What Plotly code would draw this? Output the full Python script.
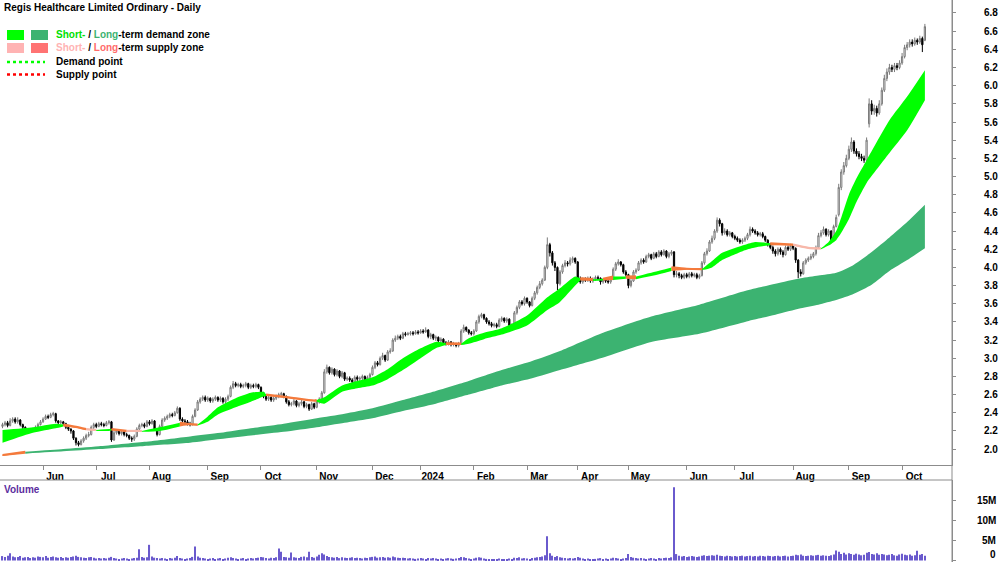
import pandas as pd
import plotly.graph_objects as go

W, H = 1000, 562


def px(x):
    return x / W


def py(y):
    return 1 - y / H


title = "Regis Healthcare Limited Ordinary - Daily"
holidays = ["2023-06-12", "2023-12-25", "2023-12-26", "2024-01-01", "2024-01-26",
            "2024-03-29", "2024-04-01", "2024-04-25", "2024-06-10"]
dates = pd.bdate_range("2023-05-10", "2024-10-14", freq="C", holidays=holidays)

opens = [
    2.25, 2.27, 2.29, 2.26, 2.31, 2.33, 2.30, 2.32, 2.27, 2.24,
    2.21, 2.21, 2.20, 2.22, 2.24, 2.27, 2.30, 2.33, 2.36, 2.35,
    2.38, 2.39, 2.31, 2.29, 2.30, 2.28, 2.24, 2.22, 2.20, 2.12,
    2.07, 2.05, 2.09, 2.12, 2.15, 2.16, 2.24, 2.27, 2.25, 2.28,
    2.27, 2.26, 2.29, 2.30, 2.10, 2.18, 2.20, 2.17, 2.19, 2.16,
    2.15, 2.12, 2.11, 2.14, 2.22, 2.26, 2.27, 2.25, 2.30, 2.28,
    2.31, 2.22, 2.16, 2.25, 2.32, 2.34, 2.36, 2.38, 2.37, 2.40,
    2.45, 2.33, 2.31, 2.30, 2.28, 2.27, 2.36, 2.43, 2.52, 2.55,
    2.57, 2.54, 2.56, 2.53, 2.55, 2.57, 2.54, 2.56, 2.52, 2.55,
    2.58, 2.68, 2.72, 2.70, 2.71, 2.69, 2.70, 2.72, 2.68, 2.70,
    2.69, 2.71, 2.68, 2.62, 2.58, 2.55, 2.57, 2.54, 2.56, 2.58,
    2.60, 2.61, 2.58, 2.52, 2.49, 2.50, 2.53, 2.48, 2.50, 2.52,
    2.47, 2.49, 2.44, 2.50, 2.46, 2.52, 2.55, 2.62, 2.85, 2.90,
    2.84, 2.88, 2.82, 2.86, 2.80, 2.84, 2.77, 2.78, 2.76, 2.74,
    2.79, 2.77, 2.78, 2.80, 2.75, 2.79, 2.82, 2.90, 2.95, 2.93,
    3.00, 3.03, 2.98, 3.07, 3.08, 3.20, 3.22, 3.24, 3.22, 3.27,
    3.26, 3.27, 3.28, 3.27, 3.29, 3.28, 3.30, 3.29, 3.31, 3.24,
    3.26, 3.22, 3.23, 3.19, 3.21, 3.17, 3.16, 3.18, 3.15, 3.16,
    3.14, 3.16, 3.30, 3.34, 3.31, 3.28, 3.27, 3.30, 3.40, 3.46,
    3.48, 3.44, 3.40, 3.38, 3.36, 3.37, 3.35, 3.42, 3.44, 3.41,
    3.43, 3.36, 3.34, 3.50, 3.56, 3.62, 3.60, 3.66, 3.62, 3.58,
    3.66, 3.72, 3.78, 3.82, 3.86, 4.00, 4.25, 4.16, 4.05, 4.00,
    3.82, 3.95, 4.02, 4.05, 4.04, 4.08, 4.10, 4.06, 3.88, 3.84,
    3.87, 3.86, 3.88, 3.85, 3.87, 3.89, 3.88, 3.84, 3.86, 3.85,
    3.84, 3.87, 3.98, 4.04, 4.06, 4.03, 3.95, 3.92, 3.80, 3.85,
    3.95, 3.97, 4.05, 4.08, 4.06, 4.12, 4.14, 4.10, 4.15, 4.12,
    4.17, 4.14, 4.18, 4.12, 4.15, 4.17, 3.92, 3.93, 3.91, 3.89,
    3.92, 3.90, 3.93, 3.91, 3.92, 3.89, 3.91, 4.05, 4.15, 4.18,
    4.28, 4.32, 4.40, 4.52, 4.48, 4.38, 4.40, 4.36, 4.38, 4.34,
    4.32, 4.30, 4.28, 4.30, 4.32, 4.36, 4.42, 4.40, 4.38, 4.36,
    4.37, 4.34, 4.30, 4.25, 4.22, 4.18, 4.15, 4.20, 4.17, 4.14,
    4.22, 4.20, 4.24, 4.21, 4.08, 3.95, 3.93, 4.05, 4.08, 4.10,
    4.12, 4.15, 4.22, 4.35, 4.38, 4.42, 4.36, 4.40, 4.30, 4.45,
    4.58, 4.88, 5.05, 5.12, 5.20, 5.30, 5.38, 5.28, 5.25, 5.22,
    5.20, 5.18, 5.58, 5.80, 5.72, 5.75, 5.70, 5.80, 5.95, 6.08,
    6.15, 6.20, 6.18, 6.22, 6.20, 6.25, 6.32, 6.42, 6.45, 6.48,
    6.46, 6.50, 6.48, 6.52, 6.50,
]
highs = [
    2.29, 2.31, 2.31, 2.34, 2.35, 2.35, 2.35, 2.33, 2.28, 2.25,
    2.23, 2.22, 2.23, 2.26, 2.29, 2.32, 2.35, 2.38, 2.38, 2.40,
    2.41, 2.40, 2.32, 2.32, 2.31, 2.29, 2.25, 2.23, 2.21, 2.13,
    2.09, 2.11, 2.14, 2.17, 2.19, 2.26, 2.29, 2.29, 2.30, 2.30,
    2.29, 2.31, 2.32, 2.31, 2.20, 2.22, 2.21, 2.21, 2.20, 2.18,
    2.16, 2.14, 2.16, 2.24, 2.28, 2.29, 2.29, 2.32, 2.32, 2.33,
    2.32, 2.23, 2.27, 2.34, 2.36, 2.38, 2.40, 2.40, 2.42, 2.47,
    2.46, 2.35, 2.33, 2.32, 2.30, 2.38, 2.45, 2.54, 2.57, 2.59,
    2.59, 2.58, 2.57, 2.57, 2.59, 2.58, 2.58, 2.57, 2.57, 2.60,
    2.70, 2.75, 2.74, 2.73, 2.73, 2.72, 2.74, 2.73, 2.72, 2.72,
    2.73, 2.72, 2.69, 2.63, 2.60, 2.59, 2.58, 2.58, 2.60, 2.62,
    2.63, 2.62, 2.59, 2.54, 2.52, 2.55, 2.54, 2.52, 2.54, 2.53,
    2.51, 2.50, 2.52, 2.51, 2.54, 2.57, 2.64, 2.88, 2.93, 2.91,
    2.90, 2.89, 2.88, 2.87, 2.86, 2.85, 2.80, 2.80, 2.78, 2.81,
    2.81, 2.80, 2.82, 2.81, 2.81, 2.84, 2.92, 2.97, 2.97, 3.02,
    3.06, 3.04, 3.09, 3.11, 3.22, 3.25, 3.26, 3.26, 3.29, 3.29,
    3.29, 3.30, 3.30, 3.31, 3.31, 3.32, 3.32, 3.34, 3.32, 3.28,
    3.27, 3.25, 3.24, 3.23, 3.22, 3.19, 3.20, 3.19, 3.18, 3.17,
    3.18, 3.32, 3.37, 3.35, 3.32, 3.30, 3.32, 3.42, 3.48, 3.50,
    3.49, 3.45, 3.42, 3.40, 3.39, 3.39, 3.44, 3.46, 3.45, 3.45,
    3.44, 3.38, 3.52, 3.58, 3.64, 3.64, 3.68, 3.67, 3.63, 3.68,
    3.74, 3.80, 3.85, 3.88, 4.02, 4.33, 4.27, 4.18, 4.07, 4.01,
    3.97, 4.04, 4.08, 4.07, 4.11, 4.12, 4.11, 4.07, 3.90, 3.89,
    3.89, 3.90, 3.90, 3.89, 3.91, 3.91, 3.89, 3.88, 3.88, 3.87,
    3.89, 4.00, 4.06, 4.09, 4.07, 4.04, 3.97, 3.93, 3.87, 3.97,
    3.99, 4.07, 4.10, 4.10, 4.14, 4.16, 4.15, 4.17, 4.17, 4.19,
    4.19, 4.20, 4.19, 4.17, 4.19, 4.18, 3.96, 3.95, 3.93, 3.94,
    3.94, 3.95, 3.95, 3.94, 3.94, 3.93, 4.07, 4.17, 4.21, 4.30,
    4.35, 4.42, 4.55, 4.54, 4.49, 4.43, 4.42, 4.40, 4.39, 4.36,
    4.34, 4.32, 4.32, 4.34, 4.38, 4.45, 4.44, 4.42, 4.40, 4.39,
    4.39, 4.35, 4.31, 4.27, 4.24, 4.20, 4.22, 4.22, 4.19, 4.24,
    4.24, 4.26, 4.25, 4.22, 4.09, 3.98, 4.07, 4.10, 4.12, 4.15,
    4.17, 4.24, 4.38, 4.41, 4.45, 4.43, 4.42, 4.41, 4.47, 4.58,
    4.92, 5.08, 5.16, 5.24, 5.34, 5.43, 5.40, 5.31, 5.28, 5.25,
    5.23, 5.43, 5.86, 5.84, 5.79, 5.78, 5.84, 5.98, 6.12, 6.19,
    6.24, 6.23, 6.25, 6.25, 6.28, 6.36, 6.45, 6.48, 6.51, 6.51,
    6.53, 6.52, 6.55, 6.54, 6.68,
]
lows = [
    2.23, 2.25, 2.24, 2.25, 2.29, 2.28, 2.28, 2.25, 2.22, 2.19,
    2.19, 2.19, 2.19, 2.21, 2.23, 2.26, 2.29, 2.32, 2.33, 2.34,
    2.36, 2.29, 2.27, 2.27, 2.26, 2.22, 2.20, 2.17, 2.10, 2.04,
    2.03, 2.04, 2.07, 2.10, 2.13, 2.15, 2.22, 2.23, 2.24, 2.25,
    2.24, 2.25, 2.27, 2.08, 2.09, 2.16, 2.15, 2.15, 2.14, 2.13,
    2.10, 2.08, 2.09, 2.13, 2.21, 2.24, 2.23, 2.24, 2.26, 2.27,
    2.20, 2.14, 2.15, 2.24, 2.30, 2.32, 2.34, 2.35, 2.36, 2.39,
    2.31, 2.29, 2.28, 2.26, 2.25, 2.26, 2.35, 2.42, 2.50, 2.53,
    2.52, 2.52, 2.51, 2.51, 2.53, 2.52, 2.52, 2.50, 2.50, 2.53,
    2.57, 2.66, 2.68, 2.68, 2.67, 2.67, 2.68, 2.66, 2.66, 2.67,
    2.67, 2.66, 2.60, 2.56, 2.53, 2.53, 2.52, 2.52, 2.54, 2.56,
    2.58, 2.56, 2.50, 2.47, 2.47, 2.48, 2.46, 2.46, 2.48, 2.45,
    2.45, 2.42, 2.43, 2.44, 2.45, 2.50, 2.54, 2.61, 2.83, 2.82,
    2.82, 2.80, 2.80, 2.78, 2.78, 2.75, 2.75, 2.74, 2.72, 2.73,
    2.75, 2.75, 2.76, 2.73, 2.74, 2.77, 2.81, 2.88, 2.91, 2.92,
    2.98, 2.96, 2.97, 3.05, 3.07, 3.18, 3.20, 3.20, 3.21, 3.24,
    3.25, 3.25, 3.25, 3.26, 3.26, 3.27, 3.27, 3.28, 3.22, 3.21,
    3.20, 3.19, 3.17, 3.17, 3.15, 3.14, 3.14, 3.13, 3.13, 3.12,
    3.12, 3.15, 3.28, 3.29, 3.26, 3.25, 3.25, 3.29, 3.38, 3.44,
    3.42, 3.38, 3.36, 3.34, 3.34, 3.33, 3.34, 3.40, 3.39, 3.39,
    3.34, 3.32, 3.33, 3.48, 3.54, 3.58, 3.58, 3.60, 3.56, 3.57,
    3.64, 3.70, 3.76, 3.80, 3.85, 3.98, 4.12, 4.02, 3.96, 3.75,
    3.80, 3.93, 4.00, 4.01, 4.02, 4.05, 4.04, 3.85, 3.82, 3.82,
    3.84, 3.84, 3.83, 3.83, 3.85, 3.86, 3.81, 3.82, 3.83, 3.82,
    3.82, 3.86, 3.96, 4.02, 4.01, 3.93, 3.90, 3.77, 3.78, 3.84,
    3.93, 3.96, 4.03, 4.04, 4.05, 4.10, 4.08, 4.09, 4.10, 4.11,
    4.12, 4.13, 4.10, 4.10, 4.13, 3.89, 3.89, 3.88, 3.87, 3.87,
    3.88, 3.88, 3.89, 3.89, 3.87, 3.87, 3.90, 4.03, 4.13, 4.17,
    4.26, 4.30, 4.38, 4.45, 4.35, 4.36, 4.34, 4.34, 4.32, 4.30,
    4.28, 4.26, 4.26, 4.28, 4.30, 4.34, 4.38, 4.36, 4.34, 4.34,
    4.32, 4.28, 4.23, 4.20, 4.15, 4.12, 4.13, 4.14, 4.11, 4.13,
    4.18, 4.18, 4.19, 4.05, 3.88, 3.90, 3.92, 4.03, 4.06, 4.08,
    4.10, 4.13, 4.21, 4.33, 4.36, 4.34, 4.34, 4.27, 4.29, 4.44,
    4.56, 4.85, 5.02, 5.10, 5.18, 5.27, 5.25, 5.22, 5.19, 5.17,
    5.15, 5.17, 5.54, 5.68, 5.68, 5.66, 5.68, 5.78, 5.93, 6.05,
    6.12, 6.15, 6.15, 6.17, 6.18, 6.23, 6.30, 6.39, 6.42, 6.43,
    6.44, 6.45, 6.46, 6.37, 6.49,
]
closes = [
    2.27, 2.29, 2.26, 2.31, 2.33, 2.30, 2.32, 2.27, 2.24, 2.21,
    2.21, 2.20, 2.22, 2.24, 2.27, 2.30, 2.33, 2.36, 2.35, 2.38,
    2.39, 2.31, 2.29, 2.30, 2.28, 2.24, 2.22, 2.20, 2.12, 2.07,
    2.05, 2.09, 2.12, 2.15, 2.16, 2.24, 2.27, 2.25, 2.28, 2.27,
    2.26, 2.29, 2.30, 2.10, 2.18, 2.20, 2.17, 2.19, 2.16, 2.15,
    2.12, 2.11, 2.14, 2.22, 2.26, 2.27, 2.25, 2.30, 2.28, 2.31,
    2.22, 2.16, 2.25, 2.32, 2.34, 2.36, 2.38, 2.37, 2.40, 2.45,
    2.33, 2.31, 2.30, 2.28, 2.27, 2.36, 2.43, 2.52, 2.55, 2.57,
    2.54, 2.56, 2.53, 2.55, 2.57, 2.54, 2.56, 2.52, 2.55, 2.58,
    2.68, 2.72, 2.70, 2.71, 2.69, 2.70, 2.72, 2.68, 2.70, 2.69,
    2.71, 2.68, 2.62, 2.58, 2.55, 2.57, 2.54, 2.56, 2.58, 2.60,
    2.61, 2.58, 2.52, 2.49, 2.50, 2.53, 2.48, 2.50, 2.52, 2.47,
    2.49, 2.44, 2.50, 2.46, 2.52, 2.55, 2.62, 2.85, 2.90, 2.84,
    2.88, 2.82, 2.86, 2.80, 2.84, 2.77, 2.78, 2.76, 2.74, 2.79,
    2.77, 2.78, 2.80, 2.75, 2.79, 2.82, 2.90, 2.95, 2.93, 3.00,
    3.03, 2.98, 3.07, 3.08, 3.20, 3.22, 3.24, 3.22, 3.27, 3.26,
    3.27, 3.28, 3.27, 3.29, 3.28, 3.30, 3.29, 3.31, 3.24, 3.26,
    3.22, 3.23, 3.19, 3.21, 3.17, 3.16, 3.18, 3.15, 3.16, 3.14,
    3.16, 3.30, 3.34, 3.31, 3.28, 3.27, 3.30, 3.40, 3.46, 3.48,
    3.44, 3.40, 3.38, 3.36, 3.37, 3.35, 3.42, 3.44, 3.41, 3.43,
    3.36, 3.34, 3.50, 3.56, 3.62, 3.60, 3.66, 3.62, 3.58, 3.66,
    3.72, 3.78, 3.82, 3.86, 4.00, 4.25, 4.16, 4.05, 4.00, 3.82,
    3.95, 4.02, 4.05, 4.04, 4.08, 4.10, 4.06, 3.88, 3.84, 3.87,
    3.86, 3.88, 3.85, 3.87, 3.89, 3.88, 3.84, 3.86, 3.85, 3.84,
    3.87, 3.98, 4.04, 4.06, 4.03, 3.95, 3.92, 3.80, 3.85, 3.95,
    3.97, 4.05, 4.08, 4.06, 4.12, 4.14, 4.10, 4.15, 4.12, 4.17,
    4.14, 4.18, 4.12, 4.15, 4.17, 3.92, 3.93, 3.91, 3.89, 3.92,
    3.90, 3.93, 3.91, 3.92, 3.89, 3.91, 4.05, 4.15, 4.18, 4.28,
    4.32, 4.40, 4.52, 4.48, 4.38, 4.40, 4.36, 4.38, 4.34, 4.32,
    4.30, 4.28, 4.30, 4.32, 4.36, 4.42, 4.40, 4.38, 4.36, 4.37,
    4.34, 4.30, 4.25, 4.22, 4.18, 4.15, 4.20, 4.17, 4.14, 4.22,
    4.20, 4.24, 4.21, 4.08, 3.95, 3.93, 4.05, 4.08, 4.10, 4.12,
    4.15, 4.22, 4.35, 4.38, 4.42, 4.36, 4.40, 4.30, 4.45, 4.55,
    4.88, 5.05, 5.12, 5.20, 5.30, 5.38, 5.28, 5.25, 5.22, 5.20,
    5.18, 5.40, 5.80, 5.72, 5.75, 5.70, 5.80, 5.95, 6.08, 6.15,
    6.20, 6.18, 6.22, 6.20, 6.25, 6.32, 6.42, 6.45, 6.48, 6.46,
    6.50, 6.48, 6.52, 6.45, 6.65,
]
volume_m = [
    1.1, 0.9, 1.2, 1.8, 1.0, 0.8, 0.9, 1.1, 0.7, 0.8,
    0.9, 0.6, 0.8, 0.7, 1.0, 0.9, 0.8, 1.1, 0.7, 0.9,
    1.0, 0.8, 0.7, 0.9, 0.6, 0.8, 0.7, 0.9, 1.0, 1.2,
    0.9, 0.8, 0.7, 0.6, 0.8, 0.9, 0.7, 0.5, 0.6, 0.5,
    0.6, 0.5, 0.7, 0.9, 0.6, 0.5, 0.4, 0.5, 0.6, 0.5,
    0.4, 0.5, 0.6, 0.7, 2.8, 0.9, 0.7, 0.8, 3.9, 1.0,
    0.7, 0.6, 0.5, 0.6, 0.5, 0.4, 0.6, 0.5, 0.7, 1.1,
    0.6, 0.5, 0.4, 0.5, 0.6, 0.9, 3.5, 1.0, 0.7, 0.6,
    0.5, 0.4, 0.5, 0.6, 0.4, 0.5, 0.6, 0.4, 0.5, 0.7,
    0.8, 0.6, 0.5, 0.4, 0.5, 0.6, 0.4, 0.5, 0.6, 0.5,
    0.6, 0.7, 0.9, 0.8, 0.6, 0.5, 0.7, 0.6, 0.8, 3.0,
    2.2, 0.9, 0.8, 0.7, 2.0, 0.8, 0.7, 0.6, 0.9, 1.0,
    0.8, 2.2, 0.9, 0.7, 1.0, 1.4, 1.8, 1.5, 1.1, 0.9,
    0.8, 0.7, 0.9, 0.6, 0.8, 0.7, 0.6, 0.7, 0.8, 0.6,
    0.7, 0.6, 0.5, 0.7, 0.6, 0.8, 0.9, 1.0, 0.7, 0.8,
    0.9, 0.7, 0.8, 0.7, 1.0, 0.8, 0.7, 0.6, 0.7, 0.6,
    0.5, 0.6, 0.5, 0.4, 0.5, 0.6, 0.5, 0.4, 0.6, 0.5,
    0.6, 0.5, 0.4, 0.5, 0.4, 0.5, 0.6, 0.5, 0.4, 0.5,
    0.6, 0.9, 0.8, 0.6, 0.5, 0.4, 0.5, 0.7, 0.8, 0.7,
    0.5, 0.4, 0.3, 0.4, 0.3, 0.4, 0.5, 0.4, 0.3, 0.4,
    0.5, 0.4, 0.7, 0.6, 0.8, 0.5, 0.6, 0.5, 0.4, 0.6,
    0.7, 0.8, 0.9, 1.0, 1.3, 6.0, 1.8, 1.2, 0.9, 1.1,
    0.8, 0.7, 0.6, 0.5, 0.6, 0.5, 0.6, 0.9, 0.7, 0.5,
    0.4, 0.5, 0.4, 0.3, 0.4, 0.5, 0.6, 0.4, 0.5, 0.4,
    0.5, 0.7, 0.6, 0.5, 0.4, 0.5, 0.6, 1.6, 0.9, 0.7,
    0.6, 0.5, 0.6, 0.5, 0.4, 0.5, 0.6, 0.5, 0.4, 0.6,
    0.5, 0.6, 0.7, 0.6, 0.8, 18.2, 1.6, 1.2, 1.0, 1.1,
    0.9, 1.0, 1.1, 1.0, 0.9, 1.0, 1.2, 1.3, 1.1, 1.2,
    1.3, 1.2, 1.4, 1.2, 1.1, 1.0, 1.2, 1.1, 1.0, 1.1,
    1.0, 1.1, 1.2, 1.0, 1.1, 1.2, 1.0, 1.1, 1.0, 1.2,
    1.1, 1.0, 1.2, 1.1, 1.0, 1.1, 1.2, 1.0, 1.1, 1.2,
    1.0, 1.1, 1.2, 1.4, 1.3, 1.5, 1.2, 1.1, 1.2, 1.3,
    1.2, 1.3, 1.4, 1.2, 1.3, 1.2, 1.1, 1.3, 1.5, 2.5,
    2.2, 1.6, 1.9, 1.5, 1.8, 1.6, 1.4, 1.7, 1.5, 1.3,
    1.4, 1.9, 2.1, 1.6, 1.5, 1.8, 1.4, 1.6, 1.5, 1.3,
    1.4, 1.6, 1.3, 1.2, 1.5, 1.7, 1.4, 1.3, 1.5, 1.2,
    1.3, 2.4, 1.4, 1.6, 1.2,
]

# short-term zone edges read at sample days (day index)
st_idx = [0, 12, 21, 24, 29, 33, 37, 42, 43, 49, 55, 62, 70, 74, 77, 81, 85, 92, 98,
          103, 104, 113, 123, 124, 127, 134, 140, 146, 152, 158, 165, 171, 175, 181,
          184, 190, 197, 207, 215, 220, 226, 228, 233, 237, 241, 246, 250, 257, 264,
          270, 276, 280, 284, 293, 297, 303, 312, 318, 323, 326, 329, 331, 334, 337,
          341, 345, 350, 357, 364]
st_upper = [2.21, 2.24, 2.28, 2.27, 2.245, 2.22, 2.21, 2.22, 2.22, 2.20, 2.20, 2.24,
            2.29, 2.275, 2.27, 2.36, 2.46, 2.56, 2.62, 2.63, 2.60, 2.57, 2.535, 2.54,
            2.57, 2.70, 2.75, 2.79, 2.88, 3.00, 3.11, 3.18, 3.165, 3.16, 3.22, 3.28,
            3.33, 3.47, 3.67, 3.77, 3.90, 3.88, 3.87, 3.875, 3.90, 3.90, 3.90, 3.95,
            4.00, 3.985, 3.98, 4.07, 4.16, 4.25, 4.28, 4.265, 4.25, 4.215, 4.21, 4.28,
            4.40, 4.55, 4.80, 4.98, 5.18, 5.38, 5.62, 5.88, 6.17]
st_lower = [2.07, 2.18, 2.23, 2.25, 2.235, 2.21, 2.20, 2.20, 2.205, 2.19, 2.19, 2.20,
            2.25, 2.265, 2.26, 2.30, 2.38, 2.46, 2.52, 2.58, 2.585, 2.56, 2.525, 2.52,
            2.50, 2.63, 2.67, 2.70, 2.77, 2.87, 3.00, 3.11, 3.145, 3.145, 3.16, 3.21,
            3.26, 3.36, 3.53, 3.62, 3.80, 3.855, 3.85, 3.855, 3.86, 3.875, 3.87, 3.91,
            3.96, 3.975, 3.97, 4.00, 4.08, 4.19, 4.22, 4.245, 4.24, 4.205, 4.20, 4.24,
            4.30, 4.38, 4.53, 4.72, 4.93, 5.08, 5.26, 5.51, 5.84]
st_segments = [(0, 24, "demand"), (24, 33, "supply"), (33, 37, "weak"), (37, 43, "demand"),
               (43, 49, "supply"), (49, 55, "weak"), (55, 70, "demand"), (70, 77, "supply"),
               (77, 104, "demand"), (104, 124, "supply"), (124, 175, "demand"),
               (175, 181, "supply"), (181, 228, "demand"), (228, 233, "supply"),
               (233, 237, "demand"), (237, 241, "supply"), (241, 246, "demand"),
               (246, 250, "supply"), (250, 264, "demand"), (264, 276, "supply"),
               (276, 303, "demand"), (303, 312, "supply"), (312, 323, "weak"),
               (323, 364, "demand")]

# long-term zone edges
lt_idx = [0, 9, 24, 38, 56, 74, 86, 98, 111, 124, 135, 146, 158, 171, 184, 197, 209,
          220, 236, 256, 275, 293, 305, 315, 322, 329, 336, 343, 350, 357, 364]
lt_upper = [1.935, 1.97, 2.00, 2.03, 2.08, 2.14, 2.18, 2.23, 2.28, 2.34, 2.39, 2.45,
            2.54, 2.64, 2.75, 2.87, 2.97, 3.08, 3.27, 3.46, 3.59, 3.74, 3.82, 3.88,
            3.91, 3.94, 4.03, 4.17, 4.33, 4.50, 4.69]
lt_lower = [1.925, 1.95, 1.975, 2.00, 2.035, 2.07, 2.11, 2.15, 2.19, 2.24, 2.29, 2.34,
            2.42, 2.50, 2.60, 2.70, 2.78, 2.87, 3.00, 3.18, 3.27, 3.40, 3.48, 3.55,
            3.59, 3.64, 3.71, 3.81, 3.96, 4.08, 4.21]
lt_segments = [(0, 9, "supply"), (9, 364, "demand")]

price_ticks = [2.0, 2.2, 2.4, 2.6, 2.8, 3.0, 3.2, 3.4, 3.6, 3.8, 4.0, 4.2, 4.4,
               4.6, 4.8, 5.0, 5.2, 5.4, 5.6, 5.8, 6.0, 6.2, 6.4, 6.6, 6.8]
volume_ticks = [0, 5, 10, 15]
volume_ticktext = ["0", "5M", "10M", "15M"]
month_names = ["2024", "Feb", "Mar", "Apr", "May", "Jun", "Jul", "Aug", "Sep", "Oct", "Nov", "Dec"]

FONT = "Liberation Sans, Arial, sans-serif"
ST_COLORS = {"demand": "#00FF00", "supply": "#F47A3C", "weak": "#F7B8AA"}
LT_COLORS = {"demand": "#3CB371", "supply": "#F47A3C"}

n = len(closes)
idx = list(range(n))
d = list(dates[:n])
month_idx, month_txt = [], []
for k in range(1, n):
    if d[k].month != d[k - 1].month:
        month_idx.append(k)
        month_txt.append(month_names[d[k].month - 1])

fig = go.Figure()


def add_band(bidx, up, lo, a, b, color, lw):
    sel = [k for k, v in enumerate(bidx) if a <= v <= b]
    xs = [bidx[k] for k in sel]
    fig.add_trace(go.Scatter(x=xs, y=[lo[k] for k in sel], mode="lines",
                             line=dict(width=0, color=color, shape="spline", smoothing=0.6),
                             hoverinfo="skip", showlegend=False, xaxis="x", yaxis="y"))
    fig.add_trace(go.Scatter(x=xs, y=[up[k] for k in sel], mode="lines",
                             line=dict(width=lw, color=color, shape="spline", smoothing=0.6),
                             fill="tonexty", fillcolor=color, hoverinfo="skip",
                             showlegend=False, xaxis="x", yaxis="y"))


for a, b, kind in lt_segments:
    add_band(lt_idx, lt_upper, lt_lower, a, b, LT_COLORS[kind], 0 if kind == "demand" else 2)
for a, b, kind in st_segments:
    add_band(st_idx, st_upper, st_lower, a, b, ST_COLORS[kind], 0 if kind == "demand" else 2.2)

fig.add_trace(go.Candlestick(
    x=idx, open=opens, high=highs, low=lows, close=closes,
    increasing=dict(line=dict(color="#7A7A7A", width=1), fillcolor="#FFFFFF"),
    decreasing=dict(line=dict(color="#000000", width=1), fillcolor="#000000"),
    whiskerwidth=0, showlegend=False, xaxis="x", yaxis="y"))

fig.add_trace(go.Bar(x=idx, y=volume_m, marker=dict(color="#6A5ACD", line=dict(width=0)),
                     width=0.45, showlegend=False, xaxis="x2", yaxis="y2"))

price_top = 0
price_bot = 465
vol_top = 480
plot_right = 952
xr = [-0.99, 374.7]
tick_font = dict(family=FONT, size=10, color="black", weight="bold")

fig.update_layout(
    width=W, height=H, margin=dict(l=0, r=0, t=0, b=0, autoexpand=False),
    paper_bgcolor="white", plot_bgcolor="white",
    font=dict(family=FONT, size=10, color="black"),
    xaxis=dict(domain=[0, px(plot_right)], range=xr, anchor="y", automargin=False,
               rangeslider=dict(visible=False), showgrid=False, zeroline=False,
               showline=True, linecolor="#8C8C8C", linewidth=1,
               tickmode="array", tickvals=month_idx, ticktext=month_txt,
               ticks="outside", ticklen=4, tickcolor="#8C8C8C",
               ticklabelshift=12, ticklabelstandoff=-2, tickfont=tick_font),
    yaxis=dict(domain=[py(price_bot), py(price_top)], range=[1.825, 6.943], anchor="x",
               side="right", showgrid=False, zeroline=False, showline=True, automargin=False,
               linecolor="#8C8C8C", linewidth=1, tickmode="array", tickvals=price_ticks,
               ticktext=[f"{v:.1f}" for v in price_ticks], ticks="outside", ticklen=3,
               tickcolor="#8C8C8C", ticklabelstandoff=26, tickfont=tick_font),
    xaxis2=dict(domain=[0, px(plot_right)], range=xr, anchor="y2", matches="x",
                showticklabels=False, showgrid=False, zeroline=False, ticks="",
                showline=False, automargin=False),
    yaxis2=dict(domain=[0, py(vol_top)], range=[-0.37, 20.0], anchor="x2", side="right",
                showgrid=False, zeroline=False, showline=True, linecolor="#8C8C8C",
                tickmode="array", tickvals=volume_ticks, ticks="outside", ticklen=3,
                tickcolor="#8C8C8C", showticklabels=False, automargin=False),
    showlegend=False, hovermode=False,
)

shapes = [
    dict(type="line", xref="paper", yref="paper", x0=0, x1=px(plot_right),
         y0=py(vol_top), y1=py(vol_top), line=dict(color="#8C8C8C", width=1)),
    dict(type="line", xref="paper", yref="paper", x0=px(plot_right), x1=px(plot_right),
         y0=0, y1=1, line=dict(color="#8C8C8C", width=1)),
    # legend swatches
    dict(type="rect", xref="paper", yref="paper", x0=px(7), x1=px(24), y0=py(40), y1=py(30),
         fillcolor="#00FF00", line=dict(width=0)),
    dict(type="rect", xref="paper", yref="paper", x0=px(31), x1=px(48), y0=py(40), y1=py(30),
         fillcolor="#3CB371", line=dict(width=0)),
    dict(type="rect", xref="paper", yref="paper", x0=px(7), x1=px(24), y0=py(53), y1=py(43),
         fillcolor="#FFB3B3", line=dict(width=0)),
    dict(type="rect", xref="paper", yref="paper", x0=px(31), x1=px(48), y0=py(53), y1=py(43),
         fillcolor="#FF7373", line=dict(width=0)),
    dict(type="line", xref="paper", yref="paper", x0=px(7), x1=px(45), y0=py(62), y1=py(62),
         line=dict(color="#00FF00", width=2.5, dash="dot")),
    dict(type="line", xref="paper", yref="paper", x0=px(7), x1=px(45), y0=py(74.5), y1=py(74.5),
         line=dict(color="#FF0000", width=2.5, dash="dot")),
]
fig.update_layout(shapes=shapes)

bold = dict(family=FONT, size=10, color="black", weight="bold")
ann = [
    dict(text=title, x=px(2), y=py(7), xanchor="left", yanchor="middle"),
    dict(text="<span style='color:#00E000'>Short-</span> / <span style='color:#3CB371'>Long</span>-term demand zone",
         x=px(54), y=py(35), xanchor="left", yanchor="middle"),
    dict(text="<span style='color:#FFB3B3'>Short-</span> / <span style='color:#FF6B6B'>Long</span>-term supply zone",
         x=px(54), y=py(48), xanchor="left", yanchor="middle"),
    dict(text="Demand point", x=px(54), y=py(62), xanchor="left", yanchor="middle"),
    dict(text="Supply point", x=px(54), y=py(74.5), xanchor="left", yanchor="middle"),
]
annotations = [dict(a, xref="paper", yref="paper", showarrow=False, font=bold) for a in ann]
annotations.append(dict(text="Volume", x=px(2), y=py(489), xref="paper", yref="paper",
                        xanchor="left", yanchor="middle", showarrow=False,
                        font=dict(family=FONT, size=10, color="#5B2D9E", weight="bold")))
# right-aligned volume axis labels
for v, t in zip(volume_ticks, volume_ticktext):
    if v == 0:
        annotations.append(dict(text=t, x=px(998), y=0, xref="paper", yref="paper",
                                xanchor="right", yanchor="bottom", showarrow=False,
                                font=tick_font))
    else:
        annotations.append(dict(text=t, x=px(998), y=v, xref="paper", yref="y2",
                                xanchor="right", yanchor="middle", showarrow=False,
                                font=tick_font))
fig.update_layout(annotations=annotations)

fig.write_html("out.html")
